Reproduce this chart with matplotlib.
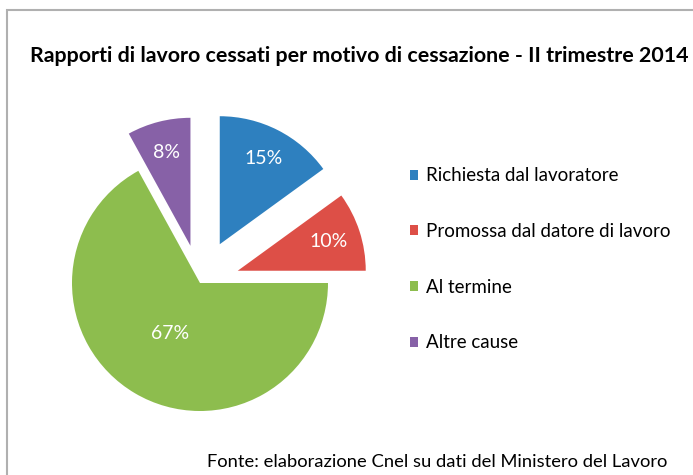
import numpy as np
import matplotlib.pyplot as plt
from matplotlib.patches import Rectangle

# Data
categories = ['Richiesta dal lavoratore', 'Promossa dal datore di lavoro', 'Al termine', 'Altre cause']
shares = [15, 10, 67, 8]
colors = ['#2E80BF', '#DD4F47', '#8DBD4E', '#8761A7']
explode = [0.34, 0.31, 0.0, 0.30]

title = 'Rapporti di lavoro cessati per motivo di cessazione - II trimestre 2014'
source = 'Fonte: elaborazione Cnel su dati del Ministero del Lavoro'

plt.rcParams['font.family'] = ['Lato', 'DejaVu Sans']

fig = plt.figure(figsize=(6.93, 4.75), dpi=100)
fig.patch.set_facecolor('white')

# outer chart border (runs off right and bottom edges)
fig.patches.append(Rectangle((7 / 693, -0.05), 1.0, (475 - 10) / 475 + 0.05,
                             transform=fig.transFigure, fill=False,
                             edgecolor='#B0B0B0', linewidth=1.5))

ax = fig.add_axes([8 / 693, 0, 384 / 693, 384 / 475])
wedges, texts, autotexts = ax.pie(shares, colors=colors, explode=explode,
                                  startangle=90, counterclock=False,
                                  autopct='%d%%', pctdistance=0.75,
                                  wedgeprops=dict(linewidth=0),
                                  textprops=dict(color='white', fontsize=14))
ax.set_xlim(-1.5, 1.5)
ax.set_ylim(-1.5, 1.5)
ax.set_aspect('equal')

# the large slice has its label closer to the centre
w = wedges[2]
mid = np.deg2rad((w.theta1 + w.theta2) / 2)
autotexts[2].set_position((0.46 * np.cos(mid), 0.46 * np.sin(mid)))

fig.legend(wedges, categories, loc='upper left', bbox_to_anchor=(402 / 693, 1 - 160 / 475),
           frameon=False, fontsize=13.5, handlelength=0.45, handleheight=0.45,
           handletextpad=0.45, labelspacing=2.06, borderaxespad=0)

fig.text(30 / 693, 1 - 56 / 475, title, fontsize=15.4, fontweight='bold', va='center', ha='left')
fig.text(207 / 693, 1 - 462 / 475, source, fontsize=13.2, va='center', ha='left')

fig.savefig('out.png', dpi=100)
